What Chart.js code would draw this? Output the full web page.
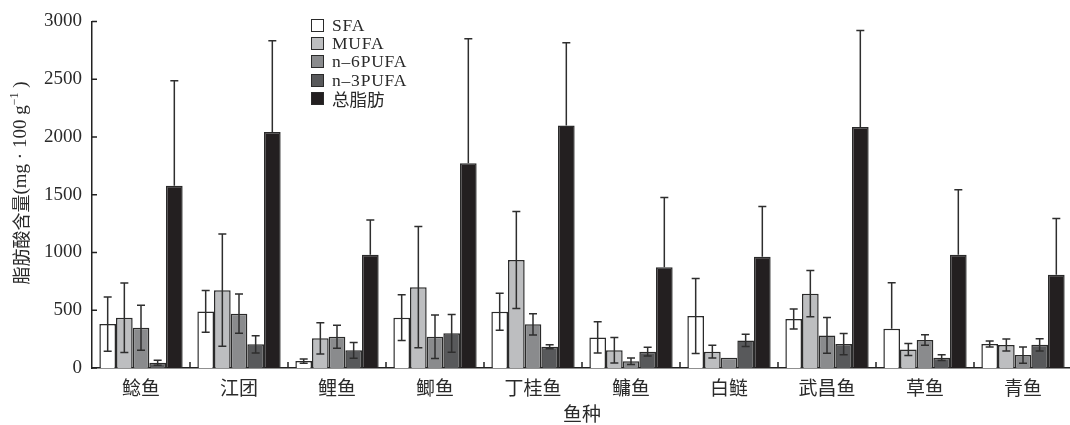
<!DOCTYPE html>
<html>
<head>
<meta charset="utf-8">
<script src="https://cdn.jsdelivr.net/npm/chart.js@4"></script>
<style>
  html, body { margin: 0; padding: 0; background: #fff; overflow: hidden; }
  #wrap { position: relative; width: 1072px; height: 425px; }
  #legend { position: absolute; left: 311px; top: 16px; font-family: "Liberation Serif", serif; font-size: 17.5px; letter-spacing: 0.8px; color: #2a2a2a; }
  #legend .row { display: flex; align-items: center; height: 18.4px; }
  #legend .sw { width: 11px; height: 11px; border: 1.4px solid #2a2a2a; margin-right: 8px; }
  #legend .cjk { font-family: "Noto Sans CJK SC", sans-serif; font-size: 17.5px; letter-spacing: 0; }
</style>
</head>
<body>
<div id="wrap">
  <canvas id="c" width="1072" height="425"></canvas>
  <div id="legend"></div>
</div>
<script>
// Fish species
const categories = ['鲶鱼', '江团', '鲤鱼', '鲫鱼', '丁桂鱼', '鳙鱼', '白鲢', '武昌鱼', '草鱼', '青鱼'];

// Fatty acid content, mg·100 g⁻¹ (mean and standard deviation)
const sfa      = [380, 490, 60, 435, 487, 265, 450, 424, 340, 207];
const sfaErr   = [235, 180, 18, 198, 160, 135, 325, 86, 398, 26];
const mufa     = [435, 674, 257, 700, 934, 153, 141, 643, 161, 199];
const mufaErr  = [300, 485, 135, 525, 420, 110, 55, 200, 52, 52];
const n6pufa   = [348, 470, 271, 271, 378, 58, 89, 282, 242, 112];
const n6Err    = [195, 170, 100, 188, 92, 28, 0, 155, 46, 70];
const n3pufa   = [46, 205, 153, 300, 184, 141, 239, 207, 89, 201];
const n3Err    = [22, 75, 68, 163, 18, 38, 53, 92, 25, 53];
const totalFat = [1577, 2043, 980, 1772, 2098, 871, 962, 2087, 980, 807];
const totalErr = [910, 790, 300, 1078, 718, 605, 436, 835, 562, 487];

const seriesNames = ['SFA', 'MUFA', 'n–6PUFA', 'n–3PUFA', '总脂肪'];
const yTicks = [0, 500, 1000, 1500, 2000, 2500, 3000];

const fills = ['#ffffff', '#bdbec0', '#8a8b8d', '#58595b', '#231f20'];
const edge = '#2a2a2a';
const serif = '"Liberation Serif", "Times New Roman", serif';
const cjk = '"Noto Sans CJK SC", sans-serif';

const values = [sfa, mufa, n6pufa, n3pufa, totalFat];
const errors = [sfaErr, mufaErr, n6Err, n3Err, totalErr];
const TOTAL_INDEX = 4;

// legend
const legendEl = document.getElementById('legend');
seriesNames.forEach((name, i) => {
  const row = document.createElement('div');
  row.className = 'row';
  const sw = document.createElement('span');
  sw.className = 'sw';
  sw.style.background = fills[i];
  const tx = document.createElement('span');
  tx.textContent = name;
  if (/[\u4e00-\u9fff]/.test(name)) tx.className = 'cjk';
  row.appendChild(sw);
  row.appendChild(tx);
  legendEl.appendChild(row);
});

// error bars, inner ticks and axis titles
const extras = {
  id: 'extras',
  afterDatasetsDraw(chart) {
    const ctx = chart.ctx;
    const ys = chart.scales.y;
    const area = chart.chartArea;
    ctx.save();
    ctx.strokeStyle = '#2e2e2e';
    ctx.lineWidth = 1.5;
    values.forEach((vals, d) => {
      const meta = chart.getDatasetMeta(d);
      meta.data.forEach((bar, k) => {
        const e = errors[d][k];
        if (!e) return;
        const v = vals[k];
        const x = bar.x;
        const yTop = ys.getPixelForValue(v + e);
        const lowVal = v - e;
        const showLow = lowVal > 0 && d !== TOTAL_INDEX;
        const yBot = showLow ? ys.getPixelForValue(lowVal) : ys.getPixelForValue(v);
        ctx.beginPath();
        ctx.moveTo(x, yTop);
        ctx.lineTo(x, yBot);
        ctx.moveTo(x - 4, yTop);
        ctx.lineTo(x + 4, yTop);
        if (showLow) {
          ctx.moveTo(x - 4, yBot);
          ctx.lineTo(x + 4, yBot);
        }
        ctx.stroke();
      });
    });

    // inward ticks on the value axis
    ctx.strokeStyle = '#222';
    ctx.lineWidth = 1.5;
    ctx.beginPath();
    yTicks.forEach(t => {
      const y = ys.getPixelForValue(t);
      ctx.moveTo(area.left, y);
      ctx.lineTo(area.left + 5, y);
    });
    // group separators on the baseline
    const n = categories.length;
    const gw = (area.right - area.left) / n;
    for (let i = 1; i < n; i++) {
      const x = area.left + i * gw;
      ctx.moveTo(x, area.bottom);
      ctx.lineTo(x, area.bottom - 6);
    }
    ctx.stroke();

    // x axis title
    ctx.fillStyle = '#2a2a2a';
    ctx.font = '19px ' + cjk;
    ctx.textAlign = 'center';
    ctx.textBaseline = 'middle';
    ctx.fillText('鱼种', 582, 414);

    // y axis title, rotated, with superscript
    const parts = [
      { t: '脂肪酸含量', f: '18px ' + cjk, dy: 0 },
      { t: '(mg · 100 g', f: '19px ' + serif, dy: 0 },
      { t: '−1', f: '12px ' + serif, dy: -7 },
      { t: ' )', f: '19px ' + serif, dy: 0 }
    ];
    let total = 0;
    parts.forEach(p => { ctx.font = p.f; p.w = ctx.measureText(p.t).width; total += p.w; });
    ctx.translate(21.5, 183);
    ctx.rotate(-Math.PI / 2);
    ctx.textAlign = 'left';
    let x = -total / 2;
    parts.forEach(p => {
      ctx.font = p.f;
      ctx.fillText(p.t, x, p.dy);
      x += p.w;
    });
    ctx.restore();
  }
};

new Chart(document.getElementById('c'), {
  type: 'bar',
  data: {
    labels: categories,
    datasets: values.map((vals, i) => ({
      label: seriesNames[i],
      data: vals,
      backgroundColor: fills[i],
      borderColor: edge,
      borderWidth: 1.5,
      categoryPercentage: 0.85,
      barPercentage: 1.0
    }))
  },
  options: {
    responsive: false,
    animation: false,
    events: [],
    layout: { padding: { top: 21, right: 0, bottom: 0, left: 0 } },
    plugins: { legend: { display: false }, tooltip: { enabled: false } },
    scales: {
      x: {
        grid: { display: false, drawTicks: false },
        border: { display: true, color: '#222', width: 1.5 },
        ticks: { font: { family: cjk, size: 19 }, color: '#2a2a2a', padding: 8, maxRotation: 0 },
        afterFit(s) { s.height = 57; }
      },
      y: {
        min: 0,
        max: 3000,
        grid: { display: false, drawTicks: false },
        border: { display: true, color: '#222', width: 1.5 },
        ticks: {
          stepSize: 500,
          padding: 10,
          color: '#2a2a2a',
          font: { family: serif, size: 19 },
          callback: v => String(v)
        },
        afterBuildTicks(s) { s.ticks = yTicks.map(v => ({ value: v })); },
        afterFit(s) { s.width = 92; }
      }
    }
  },
  plugins: [extras]
});
</script>
</body>
</html>
